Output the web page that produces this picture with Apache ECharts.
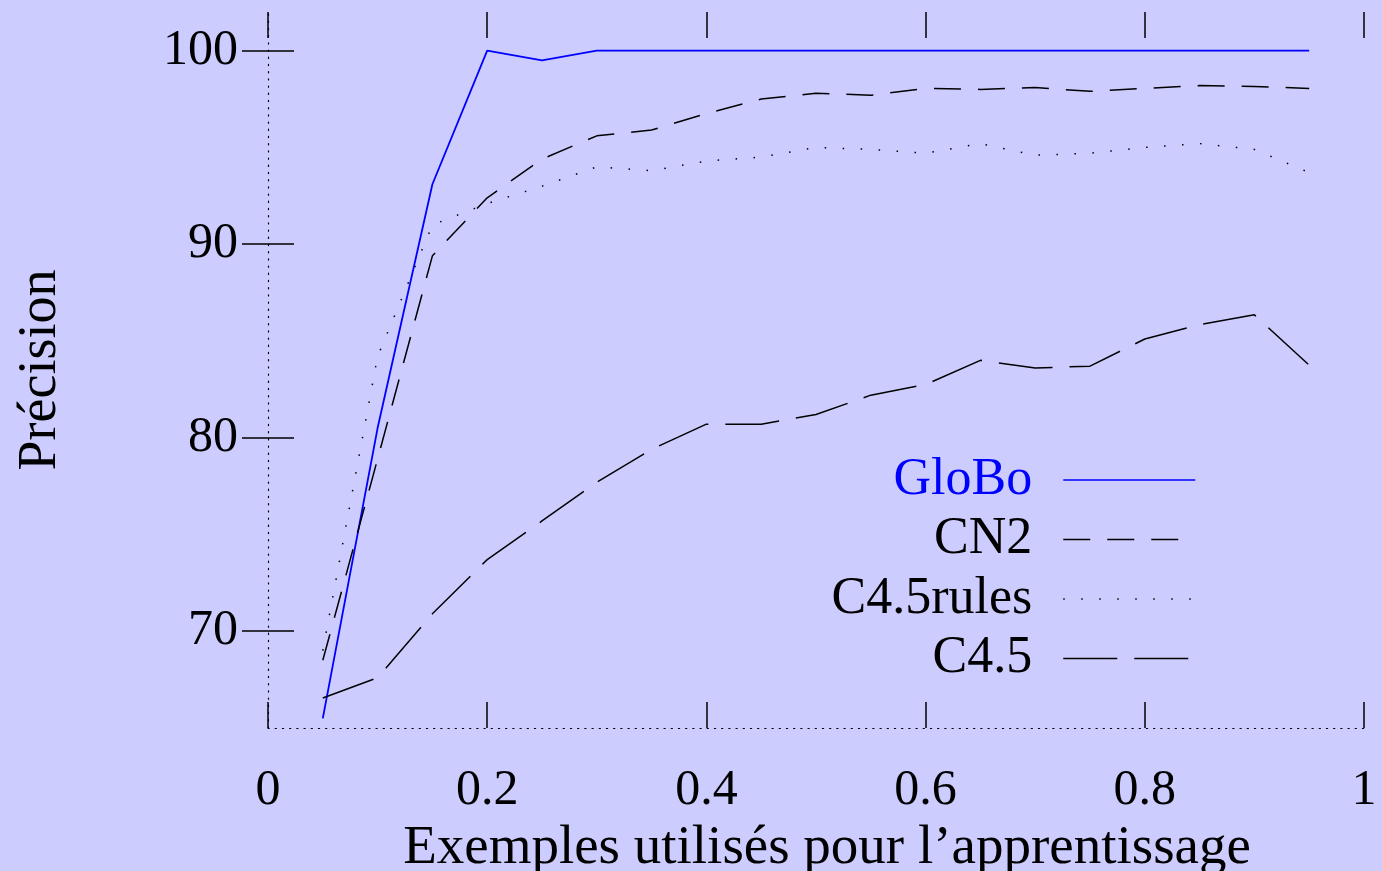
<!DOCTYPE html>
<html>
<head>
<meta charset="utf-8">
<title>Précision</title>
<script src="https://cdn.jsdelivr.net/npm/echarts@6.0.0/dist/echarts.min.js"></script>
<style>
  html, body { margin: 0; padding: 0; background: #ccccff; }
  #chart { width: 1382px; height: 871px; }
</style>
</head>
<body>
<div id="chart"></div>
<script>
// proportion d'exemples utilises
var xValues = [0.05, 0.1, 0.15, 0.2, 0.25, 0.3, 0.35, 0.4, 0.45, 0.5, 0.55, 0.6, 0.65, 0.7, 0.75, 0.8, 0.85, 0.9, 0.95]
var globo = [65.5, 80.5, 93.1, 100, 99.5, 100, 100, 100, 100, 100, 100, 100, 100, 100, 100, 100, 100, 100, 100]
var cn2 = [68.5, 78.9, 89.4, 92.4, 94.4, 95.6, 95.9, 96.75, 97.5, 97.8, 97.7, 98.05, 98.0, 98.1, 97.9, 98.05, 98.2, 98.15, 98.05]
var c45rules = [69.0, 84.2, 91.0, 92.1, 93.0, 94.0, 93.8, 94.3, 94.5, 95.0, 94.9, 94.7, 95.2, 94.6, 94.7, 95.0, 95.2, 94.9, 93.7]
var c45 = [66.55, 67.6, 70.9, 73.7, 75.7, 77.7, 79.4, 80.7, 80.7, 81.2, 82.2, 82.75, 84.0, 83.6, 83.7, 85.1, 85.85, 86.35, 83.75]
var yTicks = [70, 80, 90, 100]

var font = '"Liberation Serif", "DejaVu Serif", serif'

function pairs(ys) {
  return xValues.map(function(x, i) { return [x, ys[i]] })
}

function makeLine(name, ys, color, width, dash) {
  return {
    type: 'line',
    name: name,
    data: pairs(ys),
    symbol: 'none',
    itemStyle: { color: color },
    lineStyle: { color: color, width: width, type: dash }
  }
}

var tickStyle = { inside: true, length: 26, lineStyle: { color: '#000', width: 1.5 } }

var option = {
  backgroundColor: '#ccccff',
  animation: false,
  grid: { left: 268, right: 18, top: 12, bottom: 143, outerBoundsMode: 'none' },
  legend: {
    orient: 'vertical',
    align: 'right',
    right: 186,
    top: 454,
    padding: 0,
    itemWidth: 132,
    itemHeight: 20,
    itemGap: 7.5,
    itemStyle: { opacity: 0 },
    lineStyle: { width: 1.5 },
    textStyle: { fontFamily: font, fontSize: 52, lineHeight: 52, color: '#000', padding: [0, 26, 0, 0] },
    data: [
      { name: 'GloBo', textStyle: { color: '#0000ff' } },
      { name: 'CN2' },
      { name: 'C4.5rules' },
      { name: 'C4.5' }
    ]
  },
  xAxis: [
    {
      type: 'value',
      min: 0,
      max: 1,
      interval: 0.2,
      name: 'Exemples utilisés pour l\u2019apprentissage',
      nameLocation: 'middle',
      nameGap: 80,
      nameTextStyle: { fontFamily: font, fontSize: 55, color: '#000', padding: [0, 0, 0, 22] },
      axisLine: { lineStyle: { color: '#000', width: 1.2, type: [1.2, 6] } },
      axisTick: tickStyle,
      axisLabel: { fontFamily: font, fontSize: 50, color: '#000', margin: 38 },
      splitLine: { show: false }
    },
    {
      type: 'value',
      position: 'top',
      min: 0,
      max: 1,
      interval: 0.2,
      axisLine: { show: false },
      axisTick: tickStyle,
      axisLabel: { show: false },
      splitLine: { show: false }
    }
  ],
  yAxis: [
    {
      type: 'value',
      min: 65,
      max: 102,
      name: 'Précision',
      nameLocation: 'middle',
      nameGap: 200,
      nameTextStyle: { fontFamily: font, fontSize: 54, color: '#000' },
      axisLine: { show: true, lineStyle: { color: '#000', width: 1.2, type: [1.2, 6] } },
      axisTick: Object.assign({ customValues: yTicks }, tickStyle),
      axisLabel: { fontFamily: font, fontSize: 50, color: '#000', margin: 30, customValues: yTicks },
      splitLine: { show: false }
    },
    {
      type: 'value',
      position: 'right',
      offset: 20,
      min: 65,
      max: 102,
      axisLine: { show: false },
      axisTick: Object.assign({ customValues: yTicks }, tickStyle),
      axisLabel: { show: false, customValues: yTicks },
      splitLine: { show: false }
    }
  ],
  series: [
    makeLine('GloBo', globo, '#0000ff', 1.8, 'solid'),
    makeLine('CN2', cn2, '#000', 1.5, [27, 17]),
    makeLine('C4.5rules', c45rules, '#000', 1.5, [1.5, 16.5]),
    makeLine('C4.5', c45, '#000', 1.5, [54, 17])
  ]
}

var myChart = echarts.init(document.getElementById('chart'))
myChart.setOption(option)
</script>
</body>
</html>
